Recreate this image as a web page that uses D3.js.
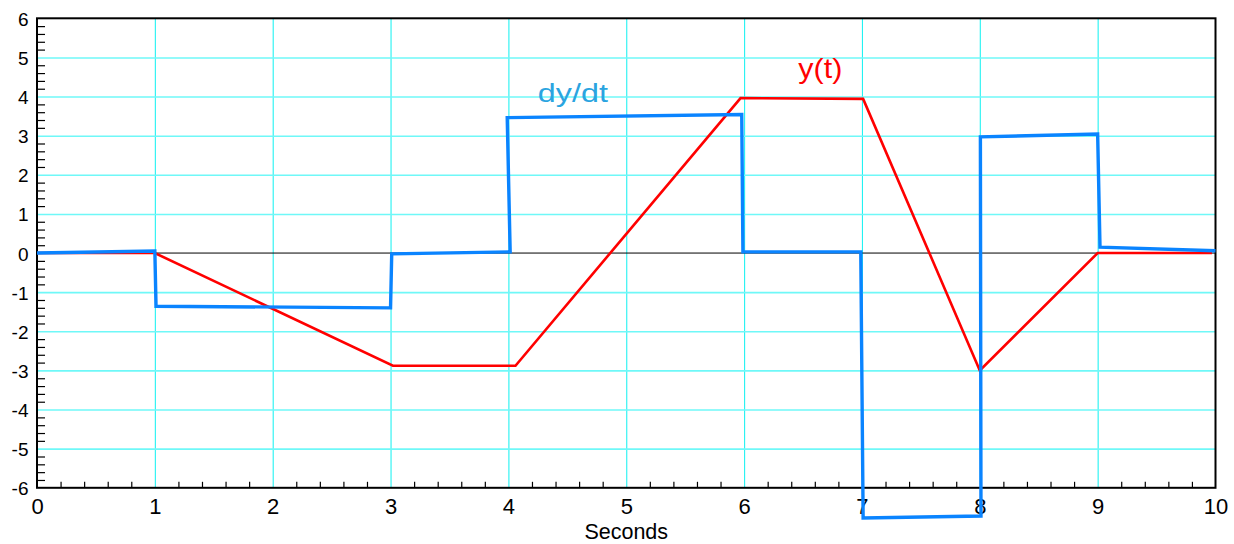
<!DOCTYPE html>
<html>
<head>
<meta charset="utf-8">
<script src="https://cdn.jsdelivr.net/npm/d3@7"></script>
<style>
  html, body { margin: 0; padding: 0; background: #fff; }
  svg { display: block; font-family: "Liberation Sans", Arial, Helvetica, sans-serif; }
</style>
</head>
<body>
<svg id="chart" width="1234" height="544"></svg>
<script>
// Time axis (seconds) and value axis
const xTicks = [0, 1, 2, 3, 4, 5, 6, 7, 8, 9, 10];
const yTicks = [6, 5, 4, 3, 2, 1, 0, -1, -2, -3, -4, -5, -6];
const yTickLabels = ["6", "5", "4", "3", "2", "1", "0", "-1", "-2", "-3", "-4", "-5", "-6"];

// y(t): piecewise linear signal
const yT = [0, 1.0, 3.02, 4.06, 5.97, 7.01, 8.0, 9.0, 9.97];
const yV = [0, 0, -2.88, -2.88, 3.96, 3.94, -3.0, 0, 0];

// dy/dt: numerical derivative of y(t)
const dT = [0, 1.0, 1.01, 3.0, 3.01, 4.015, 3.99, 5.98, 5.99, 6.99, 7.01, 8.01, 8.005, 9.0, 9.02, 10.0];
const dV = [0, 0.05, -1.36, -1.40, -0.02, 0.03, 3.46, 3.54, 0.03, 0.03, -6.77, -6.72, 2.97, 3.04, 0.15, 0.06];

const seriesLabels = [
  { text: "dy/dt", x: 4.25, y: 3.86, color: "#2aa4e0", size: 26, len: 70 },
  { text: "y(t)",  x: 6.46, y: 4.47, color: "#ff0000", size: 28, len: 44 }
];

const svg = d3.select("#chart");
const mLeft = 37, mRight = 1215.5, mTop = 18.3, mBottom = 487.8;

const x = d3.scaleLinear().domain([0, 10]).range([mLeft, mRight]);
const y = d3.scaleLinear().domain([-6, 6]).range([mBottom, mTop]);

// minor tick positions every 0.2
const xMinor = d3.range(0, 10.001, 0.2).filter(v => Math.abs(v - Math.round(v)) > 1e-6);
const yMinor = d3.range(-6, 6.001, 0.2).filter(v => Math.abs(v - Math.round(v)) > 1e-6);

// vertical grid lines
svg.append("g")
  .attr("transform", `translate(0,${mBottom})`)
  .call(d3.axisBottom(x).tickValues(xTicks.slice(1, -1)).tickSize(-(mBottom - mTop)).tickFormat(""))
  .call(g => g.select(".domain").remove())
  .call(g => g.selectAll("line").attr("stroke", "#22f2f2").attr("stroke-width", 1.1));

// horizontal grid lines (zero line drawn separately in black)
svg.append("g")
  .attr("transform", `translate(${mLeft},0)`)
  .call(d3.axisLeft(y).tickValues(yTicks.filter(v => v !== 0 && Math.abs(v) !== 6)).tickSize(-(mRight - mLeft)).tickFormat(""))
  .call(g => g.select(".domain").remove())
  .call(g => g.selectAll("line").attr("stroke", "#6ff8f8").attr("stroke-width", 1.6));

// zero line
svg.append("line")
  .attr("x1", x(0)).attr("x2", x(10))
  .attr("y1", y(0)).attr("y2", y(0))
  .attr("stroke", "#000").attr("stroke-width", 1);

// minor ticks, pointing inward
svg.append("g")
  .attr("transform", `translate(0,${mBottom})`)
  .call(d3.axisBottom(x).tickValues(xMinor).tickSize(-6).tickFormat(""))
  .call(g => g.select(".domain").remove())
  .call(g => g.selectAll("line").attr("stroke", "#000").attr("stroke-width", 1.2));

svg.append("g")
  .attr("transform", `translate(${mLeft},0)`)
  .call(d3.axisLeft(y).tickValues(yMinor).tickSize(-8).tickFormat(""))
  .call(g => g.select(".domain").remove())
  .call(g => g.selectAll("line").attr("stroke", "#000").attr("stroke-width", 1.2));

// frame
svg.append("rect")
  .attr("x", mLeft).attr("y", mTop)
  .attr("width", mRight - mLeft).attr("height", mBottom - mTop)
  .attr("fill", "none").attr("stroke", "#000").attr("stroke-width", 2);

// tick labels
svg.append("g")
  .attr("transform", `translate(0,${mBottom})`)
  .call(d3.axisBottom(x).tickValues(xTicks).tickSize(0).tickPadding(0).tickFormat(d3.format("d")))
  .call(g => g.select(".domain").remove())
  .call(g => g.selectAll("text")
    .attr("y", 26).attr("dy", null)
    .attr("font-size", 22).attr("font-family", "Liberation Sans, Arial, sans-serif").attr("fill", "#000"));

svg.append("g")
  .attr("transform", `translate(${mLeft},0)`)
  .call(d3.axisLeft(y).tickValues(yTicks).tickSize(0).tickPadding(0).tickFormat((d, i) => yTickLabels[i]))
  .call(g => g.select(".domain").remove())
  .call(g => g.selectAll("text")
    .attr("x", -8.5).attr("dy", null).attr("y", 7)
    .attr("font-size", 19).attr("font-family", "Liberation Sans, Arial, sans-serif").attr("fill", "#000"));

// axis title
svg.append("text")
  .attr("x", (mLeft + mRight) / 2).attr("y", 538.5)
  .attr("text-anchor", "middle")
  .attr("font-size", 21.5)
  .text("Seconds");

// series lines
const line = d3.line().x(d => x(d[0])).y(d => y(d[1]));

svg.append("path")
  .datum(yT.map((t, i) => [t, yV[i]]))
  .attr("d", line)
  .attr("fill", "none")
  .attr("stroke", "#ff0000")
  .attr("stroke-width", 2.6)
  .attr("stroke-linejoin", "miter");

svg.append("path")
  .datum(dT.map((t, i) => [t, dV[i]]))
  .attr("d", line)
  .attr("fill", "none")
  .attr("stroke", "#0a84ff")
  .attr("stroke-width", 3.4)
  .attr("stroke-linejoin", "miter");

// series labels
svg.selectAll("text.series")
  .data(seriesLabels)
  .enter().append("text")
  .attr("class", "series")
  .attr("x", d => x(d.x)).attr("y", d => y(d.y))
  .attr("fill", d => d.color)
  .attr("font-size", d => d.size)
  .attr("textLength", d => d.len)
  .attr("lengthAdjust", "spacingAndGlyphs")
  .text(d => d.text);
</script>
</body>
</html>
